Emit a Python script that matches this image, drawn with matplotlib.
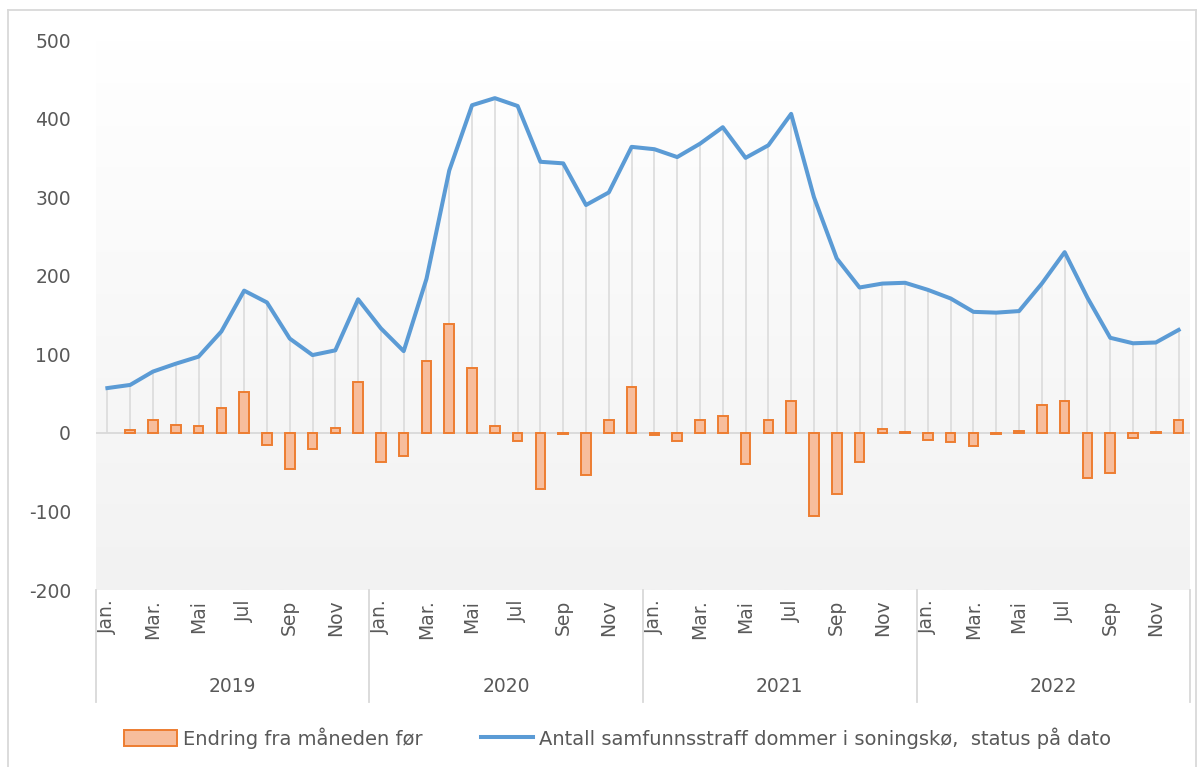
import numpy as np
import matplotlib
matplotlib.use("Agg")
import matplotlib.pyplot as plt
from matplotlib.colors import LinearSegmentedColormap
from matplotlib.patches import Patch
from matplotlib.lines import Line2D

# Månedlige tall 2019-2022
aar = ["2019", "2020", "2021", "2022"]
maaneder = ["Jan.", "", "Mar.", "", "Mai", "", "Jul", "", "Sep", "", "Nov", ""]

antall_i_ko = [
    57, 61, 78, 88, 97, 129, 181, 166, 120, 99, 105, 170,
    133, 104, 196, 334, 417, 426, 416, 345, 343, 290, 306, 364,
    361, 351, 368, 389, 350, 366, 406, 300, 222, 185, 190, 191,
    182, 171, 154, 153, 155, 190, 230, 172, 121, 114, 115, 131,
]
endring = [
    np.nan, 4, 17, 10, 9, 32, 52, -15, -46, -21, 6, 65,
    -37, -29, 92, 138, 83, 9, -10, -71, -2, -53, 16, 58,
    -3, -10, 17, 21, -39, 16, 40, -106, -78, -37, 5, 1,
    -9, -11, -17, -1, 2, 35, 40, -58, -51, -7, 1, 16,
]

TEKST = "#595959"
LINJE = "#5b9bd5"
SOYLE = "#f7bd9c"
KANT = "#ed7d31"
plt.rcParams["font.family"] = ["DejaVu Sans"]
plt.rcParams["axes.unicode_minus"] = False

fig = plt.figure(figsize=(12.04, 7.67), dpi=100)
ax = fig.add_axes([96 / 1204, 1 - 590 / 767, 1094 / 1204, 550 / 767])

x = np.arange(len(antall_i_ko))

# bakgrunn med svak gradient
grad = LinearSegmentedColormap.from_list("bg", ["#ffffff", "#f2f2f2"])
ax.imshow(np.linspace(0, 1, 256).reshape(-1, 1), cmap=grad, aspect="auto",
          extent=[-0.5, len(x) - 0.5, -200, 500], origin="upper", zorder=0)

ax.axhline(0, color="#d9d9d9", lw=1.3, zorder=1)
ax.vlines(x, 0, antall_i_ko, color="#d9d9d9", lw=1.1, zorder=1)
ax.bar(x, endring, width=0.42, color=SOYLE, edgecolor=KANT,
       linewidth=1.4, zorder=2)
ax.plot(x, antall_i_ko, color=LINJE, lw=2.9, solid_joinstyle="round", zorder=3)

ax.set_xlim(-0.5, len(x) - 0.5)
ax.set_ylim(-200, 500)
ax.set_yticks(range(-200, 501, 100))
ax.tick_params(axis="y", length=0, pad=18, labelsize=13.5, labelcolor=TEKST)

ax.set_xticks(x)
ax.set_xticklabels(maaneder * len(aar), rotation=90, va="top")
ax.tick_params(axis="x", length=0, pad=7, labelsize=13.5, labelcolor=TEKST)

for s in ax.spines.values():
    s.set_visible(False)

# årsgrupper under månedene
bunn = -(702 - 590) / 550
for i, a in enumerate(aar):
    ax.annotate(a, xy=(i * 12 + 5.5, 0), xycoords=("data", "axes fraction"),
                xytext=(0, -97), textcoords="offset pixels",
                ha="center", va="center", fontsize=13.5, color=TEKST)
for k in range(len(aar) + 1):
    ax.plot([k * 12 - 0.5] * 2, [0, bunn], color="#d9d9d9", lw=1.3,
            transform=ax.get_xaxis_transform(), clip_on=False)

# ramme rundt figuren
for xs, ys in [([8, 8], [10, 767]), ([8, 1196], [10, 10]), ([1196, 1196], [10, 767])]:
    fig.add_artist(Line2D([v / 1204 for v in xs], [1 - v / 767 for v in ys],
                          color="#d9d9d9", lw=1.3))

handles = [
    Patch(facecolor=SOYLE, edgecolor=KANT, linewidth=1.4),
    Line2D([0], [0], color=LINJE, lw=2.9),
]
labels = ["Endring fra måneden før",
          "Antall samfunnsstraff dommer i soningskø,  status på dato"]
fig.legend(handles, labels, loc="center", bbox_to_anchor=(0.513, 1 - 738 / 767),
           ncol=2, frameon=False, fontsize=14, labelcolor=TEKST,
           handlelength=2.7, handleheight=0.9, handletextpad=0.3,
           columnspacing=3.0)

fig.savefig("out.png", dpi=100)
